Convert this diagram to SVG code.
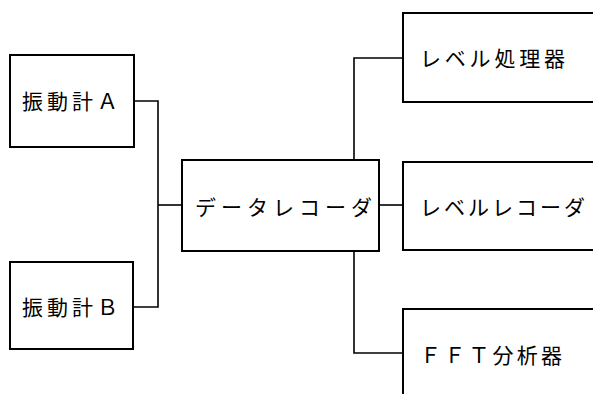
<svg xmlns="http://www.w3.org/2000/svg" width="593" height="394" viewBox="0 0 593 394">
<style>
.box{fill:#fff;stroke:#000;stroke-width:2}
.ln{fill:none;stroke:#000;stroke-width:1.6}
text{font-family:"Noto Sans CJK JP","Noto Sans CJK SC",sans-serif;font-size:21px;fill:#000}
</style>
<rect width="593" height="394" fill="#fff"/>
<g id="connectors">
<path class="ln" d="M134,101 H158 V307 H133"/>
<path class="ln" d="M158,205 H182"/>
<path class="ln" d="M379,205 H403"/>
<path class="ln" d="M354,160 V58 H403"/>
<path class="ln" d="M354,251 V353 H403"/>
</g>
<g id="vibA">
<rect class="box" x="10" y="55" width="124" height="92"/>
<text x="22" y="109" textLength="96" lengthAdjust="spacing">振動計Ａ</text>
</g>
<g id="vibB">
<rect class="box" x="10" y="262" width="123" height="87"/>
<text x="22" y="315" textLength="96" lengthAdjust="spacing">振動計Ｂ</text>
</g>
<g id="recorder">
<rect class="box" x="182" y="160" width="197" height="91"/>
<text x="195" y="215" textLength="177" lengthAdjust="spacing">データレコーダ</text>
</g>
<g id="levelProc">
<rect class="box" x="403" y="13" width="200" height="89"/>
<text x="420" y="66" textLength="145" lengthAdjust="spacing">レベル処理器</text>
</g>
<g id="levelRec">
<rect class="box" x="403" y="162" width="200" height="88"/>
<text x="420" y="215" textLength="165" lengthAdjust="spacing">レベルレコーダ</text>
</g>
<g id="fft">
<rect class="box" x="403" y="309" width="200" height="100"/>
<text x="420" y="363" textLength="142" lengthAdjust="spacing">ＦＦＴ分析器</text>
</g>
</svg>
